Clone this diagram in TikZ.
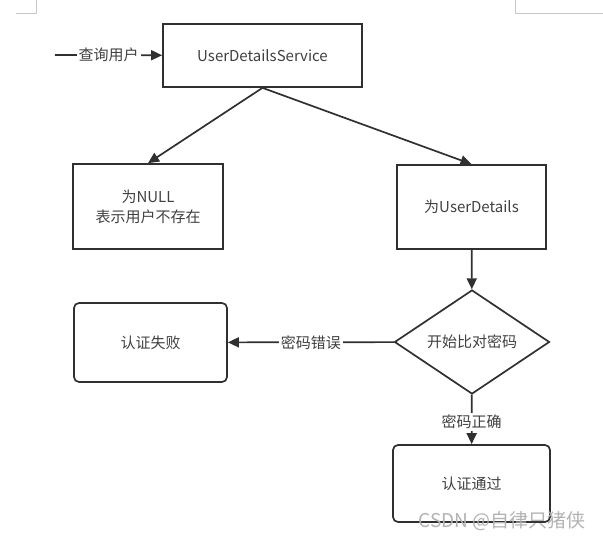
\documentclass[tikz,border=0pt]{standalone}
\usepackage{fontspec}
\setmainfont{Noto Sans CJK SC}
\usetikzlibrary{positioning}
\usetikzlibrary{shapes.geometric}
\usetikzlibrary{arrows.meta}
\definecolor{linegray}{HTML}{303030}
\definecolor{textgray}{HTML}{404040}
\definecolor{markgray}{HTML}{C8C8C8}

\begin{document}
\begin{tikzpicture}[x=1pt, y=-1pt, font=\fontsize{15}{20}\selectfont,
    box/.style = {draw=linegray, line width=1.7pt, text=textgray, align=center},
    round/.style = {box, rounded corners=5pt},
    decide/.style = {draw=linegray, line width=1.7pt, text=textgray, diamond, inner sep=0pt},
    flow/.style = {draw=linegray, line width=1.7pt, -{Triangle[length=11pt,width=10pt]}},
    tag/.style = {fill=white, text=textgray, inner sep=2pt}]
	\useasboundingbox (0,0) rectangle (603,540);
	% page corner marks
	\draw[markgray, line width=0.8pt] (16,13) -- (36,13) -- (36,0);
	\draw[markgray, line width=0.8pt] (515,0) -- (515,13) -- (603,13);

	\coordinate (in) at (55,55);
	\node[box, minimum width=199pt, minimum height=63pt] (svc) at (262.5,55.5) {UserDetailsService};
	\node[box, minimum width=150pt, minimum height=85pt] (null) at (148,206.5) {为NULL\\表示用户不存在};
	\node[box, minimum width=149pt, minimum height=84pt] (ud) at (471.5,207) {为UserDetails};
	\node[decide, minimum width=155pt, minimum height=102pt] (cmp) at (472,342) {开始比对密码};
	\node[round, minimum width=153pt, minimum height=79pt] (fail) at (150.5,342.5) {认证失败};
	\node[round, minimum width=157pt, minimum height=77pt] (pass) at (471.5,483.5) {认证通过};

	\draw[flow] (in) -- node[tag] {查询用户} (svc);
	\draw[flow] (svc.south) -- (null.north);
	\draw[flow] (svc.south) -- (ud.north);
	\draw[flow] (ud) -- (cmp);
	\draw[flow] (cmp) -- node[tag] {密码错误} (fail);
	\draw[flow] (cmp) -- node[tag, pos=0.55] {密码正确} (pass);

	% watermark
	\node[text=gray!60, font=\fontsize{19}{21}\selectfont] (mark) at (502,521) {CSDN @自律只猪侠};
\end{tikzpicture}
\end{document}
